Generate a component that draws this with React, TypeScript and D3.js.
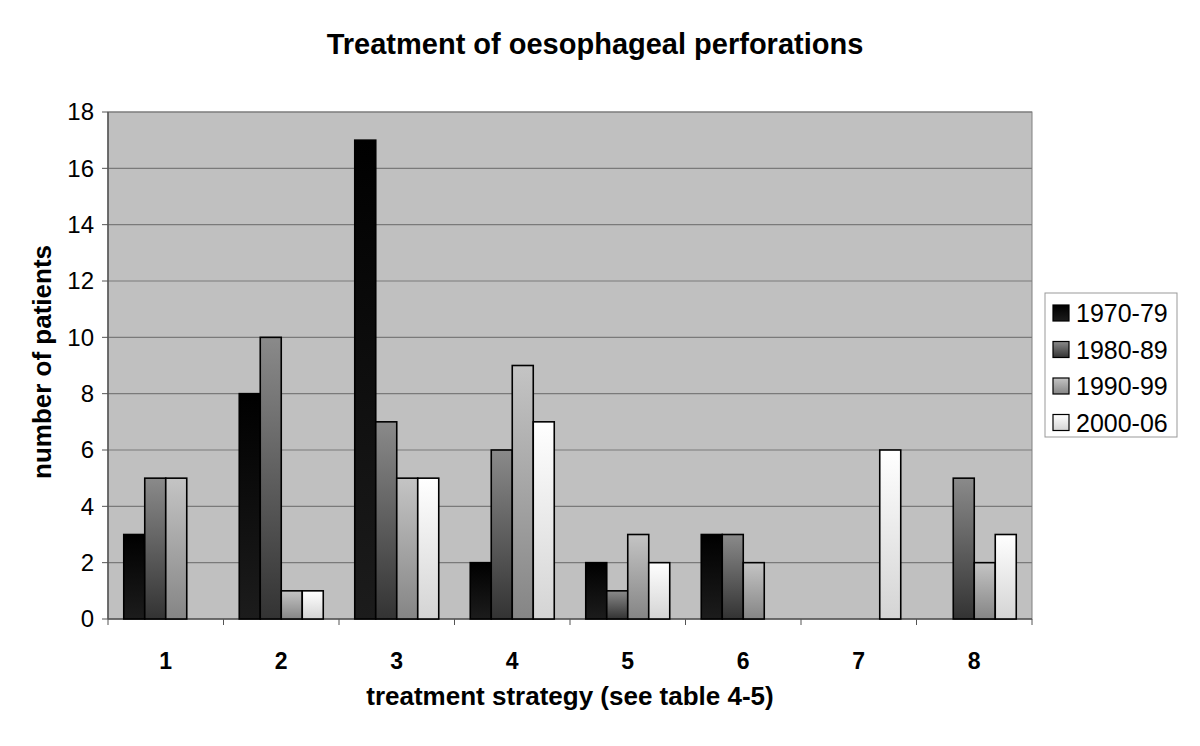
import React from "react";
import * as d3 from "d3";

const categories = ["1", "2", "3", "4", "5", "6", "7", "8"];
const seriesNames = ["1970-79", "1980-89", "1990-99", "2000-06"];
const s1970 = [3, 8, 17, 2, 2, 3, 0, 0];
const s1980 = [5, 10, 7, 6, 1, 3, 0, 5];
const s1990 = [5, 1, 5, 9, 3, 2, 0, 2];
const s2000 = [0, 1, 5, 7, 2, 0, 6, 3];
const yTicks = [0, 2, 4, 6, 8, 10, 12, 14, 16, 18];

const seriesValues = [s1970, s1980, s1990, s2000];
const gradTop = ["#000000", "#8a8a8a", "#c4c4c4", "#ffffff"];
const gradBottom = ["#1c1c1c", "#333333", "#858585", "#d4d4d4"];

export default function App() {
  const W = 1200, H = 746;
  const left = 108, right = 1032, top = 112, bottom = 619;
  const x0 = d3.scaleBand<string>().domain(categories).range([left, right]).paddingInner(0).paddingOuter(0);
  const groupW = x0.bandwidth();
  const barW = groupW / 5.5;
  const x1 = d3.scaleBand<number>().domain([0, 1, 2, 3]).range([0, barW * 4]);
  const y = d3.scaleLinear().domain([0, 18]).range([bottom, top]);
  const font = "Arial, 'Liberation Sans', sans-serif";

  return (
    <svg width={W} height={H} style={{ position: "absolute", left: 0, top: 0 }} fontFamily={font}>
      <defs>
        {seriesNames.map((s, i) => (
          <linearGradient key={s} id={`g${i}`} x1="0" y1="0" x2="0" y2="1">
            <stop offset="0" stopColor={gradTop[i]} />
            <stop offset="1" stopColor={gradBottom[i]} />
          </linearGradient>
        ))}
      </defs>
      <rect x={0} y={0} width={W} height={H} fill="#fff" />
      <text x={595} y={54} textAnchor="middle" fontSize={29} fontWeight="bold" fill="#000">
        Treatment of oesophageal perforations
      </text>
      <rect x={left} y={top} width={right - left} height={bottom - top} fill="#c0c0c0" stroke="#808080" strokeWidth={1} />
      {yTicks.map((t) => (
        <g key={t}>
          {t > 0 && <line x1={left} x2={right} y1={y(t)} y2={y(t)} stroke="#7a7a7a" strokeWidth={1.2} />}
          <line x1={left - 6} x2={left} y1={y(t)} y2={y(t)} stroke="#555" strokeWidth={1} />
          <text x={94} y={y(t)} dy="0.35em" textAnchor="end" fontSize={24} fill="#000">{t}</text>
        </g>
      ))}
      <line x1={left} x2={left} y1={top} y2={bottom} stroke="#555" strokeWidth={1.5} />
      <line x1={left} x2={right} y1={bottom} y2={bottom} stroke="#555" strokeWidth={1.5} />
      {categories.map((c) => (
        <line key={c} x1={x0(c)!} x2={x0(c)!} y1={bottom} y2={bottom + 6} stroke="#555" strokeWidth={1} />
      ))}
      <line x1={right} x2={right} y1={bottom} y2={bottom + 6} stroke="#555" strokeWidth={1} />
      {categories.map((c, ci) => {
        const gx = x0(c)! + (groupW - barW * 4) / 2;
        return (
          <g key={c}>
            {seriesValues.map((vals, si) =>
              vals[ci] > 0 ? (
                <rect
                  key={si}
                  x={gx + x1(si)!}
                  y={y(vals[ci])}
                  width={barW}
                  height={y(0) - y(vals[ci])}
                  fill={`url(#g${si})`}
                  stroke="#000"
                  strokeWidth={1.6}
                />
              ) : null
            )}
            <text x={x0(c)! + groupW / 2} y={669} textAnchor="middle" fontSize={23} fontWeight="bold" fill="#000">{c}</text>
          </g>
        );
      })}
      <text x={570} y={705} textAnchor="middle" fontSize={26} fontWeight="bold" fill="#000">
        treatment strategy (see table 4-5)
      </text>
      <text transform={`translate(51,${362}) rotate(-90)`} textAnchor="middle" fontSize={26} fontWeight="bold" fill="#000">
        number of patients
      </text>
      <rect x={1045} y={293} width={132} height={144} fill="#fff" stroke="#999" strokeWidth={1} />
      {seriesNames.map((s, i) => (
        <g key={s} transform={`translate(1053,${322 + i * 36.5})`}>
          <rect x={0} y={-17} width={16} height={16} fill={`url(#g${i})`} stroke="#000" strokeWidth={1.2} />
          <text x={23} y={0} fontSize={25} fill="#000">{s}</text>
        </g>
      ))}
    </svg>
  );
}
